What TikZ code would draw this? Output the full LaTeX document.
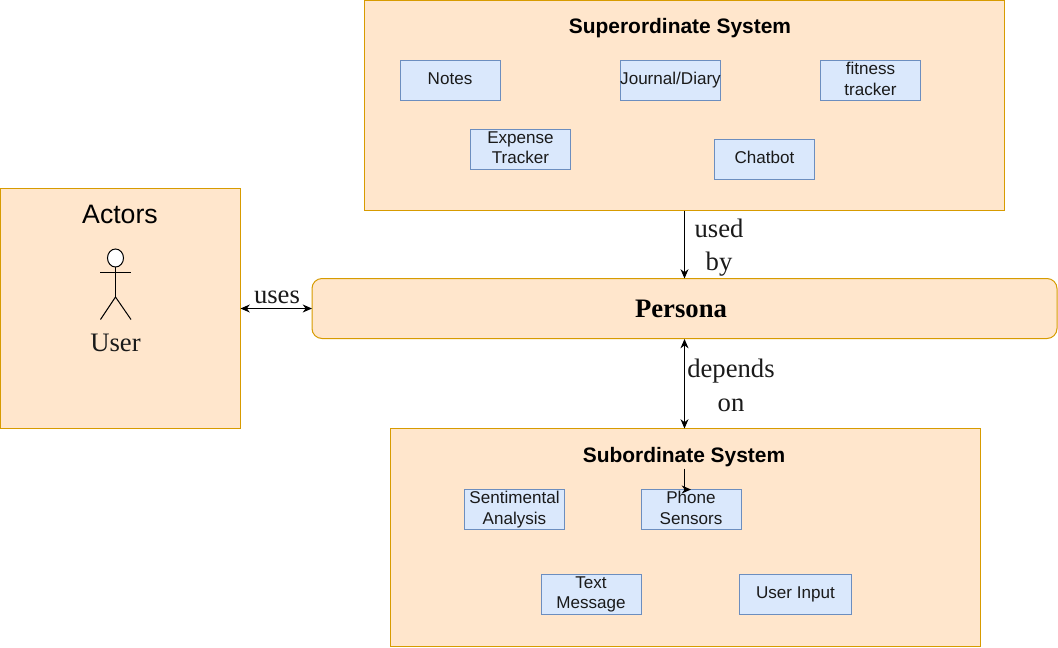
\documentclass[tikz,border=0pt]{standalone}
\usepackage{fontspec}
\setmainfont{Liberation Serif}
\newfontfamily\arialf{Liberation Sans}
\usetikzlibrary{arrows.meta,shapes.geometric}
\definecolor{panelfill}{HTML}{FFE6CC}
\definecolor{paneldraw}{HTML}{D79B00}
\definecolor{itemfill}{HTML}{DAE8FC}
\definecolor{itemdraw}{HTML}{6C8EBF}
\definecolor{inktext}{HTML}{1A1A1A}
\newcommand{\ystrut}{\rule[-3pt]{0pt}{12pt}}
\tikzset{
  x=0.75pt,y=-0.75pt,
  panel/.style={draw=paneldraw,fill=panelfill,line width=0.75pt,outer sep=0pt,inner sep=0pt,anchor=north west},
  itembox/.style={draw=itemdraw,fill=itemfill,line width=0.75pt,outer sep=0pt,minimum height=30pt,inner sep=0pt,align=center,
    text=inktext,font=\arialf\fontsize{12.8}{15.7}\selectfont},
  itemw/.style={minimum width=75pt},
  paneltitle/.style={font=\arialf\bfseries\fontsize{15.7}{18}\selectfont,inner sep=0pt},
  seriflabel/.style={font=\fontsize{20}{25}\selectfont,align=center,inner sep=0pt,text=inktext},
  conn/.style={line width=0.75pt,-{Stealth[length=7pt,width=6pt]}},
  biconn/.style={line width=0.75pt,{Stealth[length=7pt,width=6pt]}-{Stealth[length=7pt,width=6pt]}},
  stick/.style={line width=0.75pt,draw=black}
}
\begin{document}
\begin{tikzpicture}
\useasboundingbox (0,0) rectangle (1058,647);
% panels
\node[panel,minimum width=480pt,minimum height=157.5pt] (super) at (364.5,0.5) {};
\node[panel,minimum width=180pt,minimum height=180pt] (actors) at (0.5,188.5) {};
\node[panel,rounded corners=7.5pt,minimum width=558.75pt,minimum height=45pt] (persona) at (312,278.5) {};
\node[panel,minimum width=442.5pt,minimum height=163.5pt] (sub) at (390.5,428.5) {};
% titles
\node[paneltitle] (supertitle) at (680,28.5) {Superordinate System};
\node[paneltitle] (subtitle) at (684,457.5) {Subordinate System};
\node[font=\arialf\fontsize{20}{24}\selectfont,inner sep=0pt] (actorstitle) at (120,214) {Actors};
\node[font=\bfseries\fontsize{20}{24}\selectfont,inner sep=0pt] (personatitle) at (681,309) {Persona};
% items
\node[itembox,itemw] (notes) at (450,80.5) {\ystrut Notes};
\node[itembox,itemw] (journal) at (670.5,80.5) {\ystrut Journal/Diary};
\node[itembox,itemw] (fitness) at (870.5,80.5) {\ystrut fitness\\\ystrut tracker};
\node[itembox,itemw] (expense) at (520.5,149.5) {\ystrut Expense\\\ystrut Tracker};
\node[itembox,itemw] (chatbot) at (764.5,159.5) {\ystrut Chatbot};
\node[itembox,itemw] (senti) at (514.5,509.5) {\ystrut Sentimental\\\ystrut Analysis};
\node[itembox,itemw] (phone) at (691,509.5) {\ystrut Phone\\\ystrut Sensors};
\node[itembox,itemw] (textmsg) at (591,594.5) {\ystrut Text\\\ystrut Message};
\node[itembox,minimum width=84pt] (userinput) at (795.5,594.5) {\ystrut User Input};
% actor figure
\node[draw=black,fill=white,line width=0.75pt,ellipse,minimum width=12pt,minimum height=13.5pt,inner sep=0pt,outer sep=0pt] (head) at (115.5,258) {};
\coordinate (hip) at (115.5,297);
\coordinate (armL) at (100,272.5);
\coordinate (armR) at (131,272.5);
\coordinate (footL) at (100.5,319.5);
\coordinate (footR) at (131,319.5);
\draw[stick] (head.south) -- (hip);
\draw[stick] (armL) -- (armR);
\draw[stick] (footL) -- (hip) -- (footR);
\node[seriflabel] (userlabel) at (115.5,343) {User};
% connectors
\coordinate (superfoot) at (684.5,210.5);
\coordinate (personatop) at (684.5,278.5);
\coordinate (personabot) at (684.5,339);
\coordinate (subtop) at (684.5,428.5);
\draw[conn] (superfoot) -- (personatop);
\draw[biconn] (personabot) -- (subtop);
\draw[biconn] (actors.east |- persona.west) -- (persona.west);
\coordinate (subdrop) at (684.5,468.5);
\draw[conn] (subdrop) |- (phone.north);
% labels
\node[seriflabel] (usedby) at (719,247.5) {used\\by};
\node[seriflabel] (depends) at (731,385.5) {depends\\on};
\node[seriflabel] (uses) at (277,297) {uses};
\end{tikzpicture}
\end{document}
